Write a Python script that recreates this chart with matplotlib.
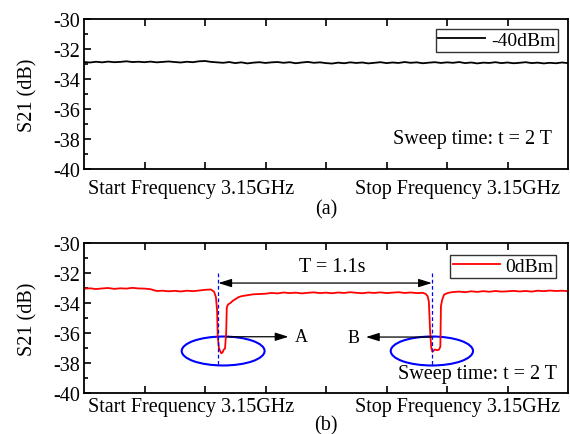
import matplotlib
matplotlib.use('Agg')
import matplotlib.pyplot as plt
import numpy as np
from matplotlib.patches import Ellipse

plt.rcParams['font.family'] = ['Liberation Serif', 'DejaVu Serif']

# (a) -40dBm trace, sampled uniformly from start to stop
top_y = [-32.87, -32.90, -32.85, -32.89, -32.84, -32.88, -32.86, -32.82, -32.87, -32.85,
         -32.88, -32.84, -32.89, -32.86, -32.83, -32.87, -32.90, -32.85, -32.88, -32.82,
         -32.80, -32.86, -32.89, -32.92, -32.87, -32.94, -32.89, -32.96, -32.91, -32.88,
         -32.93, -32.89, -32.87, -32.92, -32.88, -32.95, -32.90, -32.86, -32.92, -32.89,
         -32.94, -32.97, -32.91, -32.95, -32.89, -32.93, -32.90, -32.96, -32.92, -32.88,
         -32.94, -32.90, -32.93, -32.87, -32.92, -32.89, -32.95, -32.91, -32.88, -32.93,
         -32.89, -32.92, -32.87, -32.94, -32.90, -32.96, -32.91, -32.93, -32.88, -32.94,
         -32.90, -32.95, -32.92, -32.88, -32.94, -32.91, -32.96, -32.92, -32.95, -32.90, -32.94]

# (b) 0dBm trace with two absorption dips
bot_x = [0.0, 0.1, 0.2, 0.3, 0.4, 0.5, 0.6, 0.7, 0.8, 0.9, 1.0, 1.1, 1.2, 1.3, 1.4, 1.5,
         1.6, 1.7, 1.8, 1.9, 2.0, 2.1, 2.15, 2.18, 2.2, 2.21, 2.23, 2.25, 2.27, 2.29, 2.31,
         2.33, 2.35, 2.36, 2.38, 2.42, 2.46, 2.5, 2.55, 2.6, 2.7, 2.8, 2.9,
         3.0, 3.1, 3.2, 3.3, 3.4, 3.5, 3.6, 3.7, 3.8, 3.9, 4.0, 4.1, 4.2, 4.3, 4.4, 4.5,
         4.6, 4.7, 4.8, 4.9, 5.0, 5.1, 5.2, 5.3, 5.4, 5.5, 5.6,
         5.65, 5.68, 5.7, 5.72, 5.74, 5.76, 5.8, 5.84, 5.87, 5.89, 5.9, 5.92, 5.95, 6.0,
         6.05, 6.1, 6.2, 6.3, 6.4, 6.5, 6.6, 6.7, 6.8, 6.9, 7.0, 7.1, 7.2, 7.3, 7.4, 7.5,
         7.6, 7.7, 7.8, 7.9, 8.0]
bot_y = [-33.05, -33.02, -33.07, -33.03, -33.00, -33.06, -33.02, -33.04, -32.99, -33.03,
         -33.04, -33.08, -33.20, -33.18, -33.22, -33.19, -33.23, -33.18, -33.21, -33.17,
         -33.12, -33.10, -33.25, -33.60, -34.50, -36.20, -37.00, -37.20, -37.35, -37.30,
         -37.10, -37.05, -36.00, -34.30, -34.10, -34.00, -33.85, -33.75, -33.62, -33.55,
         -33.48, -33.42, -33.40,
         -33.38, -33.33, -33.36, -33.30, -33.34, -33.31, -33.36, -33.32, -33.29, -33.34,
         -33.31, -33.35, -33.30, -33.33, -33.28, -33.32, -33.35, -33.30, -33.33, -33.29,
         -33.34, -33.31, -33.28, -33.33, -33.30, -33.34, -33.32,
         -33.40, -33.55, -33.90, -35.80, -37.00, -37.25, -37.10, -37.15, -37.10, -36.90,
         -34.20, -33.80, -33.45, -33.35, -33.30, -33.27,
         -33.24, -33.28, -33.22, -33.26, -33.21, -33.25, -33.20, -33.24, -33.22, -33.19,
         -33.23, -33.20, -33.24, -33.18, -33.21, -33.17, -33.20, -33.18, -33.21]

y_ticks = [-30, -32, -34, -36, -38, -40]
x_ticks = [1, 2, 3, 4, 5, 6, 7]


def style_axes(ax):
    ax.set_xlim(0, 8)
    ax.set_ylim(-40, -30)
    ax.set_yticks(y_ticks)
    ax.set_yticklabels([str(v) for v in y_ticks])
    ax.set_yticks([-31, -33, -35, -37, -39], minor=True)
    ax.set_xticks(x_ticks)
    ax.set_xticklabels([])
    ax.tick_params(which='both', direction='in', top=True, right=False, width=1.2)
    ax.tick_params(which='major', length=5, labelsize=14.5, pad=3)
    ax.tick_params(which='minor', length=3)
    for sp in ax.spines.values():
        sp.set_linewidth(1.3)
    ax.set_ylabel('S21 (dB)', fontsize=14.5, labelpad=11)


def freq_labels(ax, off, tag, tag_off):
    tr = ax.get_xaxis_transform()
    ax.annotate('Start Frequency 3.15GHz', xy=(1.77, 0), xycoords=tr,
                xytext=(0, -off), textcoords='offset pixels',
                ha='center', va='center', fontsize=14.5)
    ax.annotate('Stop Frequency 3.15GHz', xy=(6.18, 0), xycoords=tr,
                xytext=(0, -off), textcoords='offset pixels',
                ha='center', va='center', fontsize=14.5)
    ax.annotate(tag, xy=(4.0, 0), xycoords=tr,
                xytext=(0, -tag_off), textcoords='offset pixels',
                ha='center', va='center', fontsize=14.5)


fig = plt.figure(figsize=(5.7, 4.35), dpi=100)
ax1 = fig.add_axes([84 / 570, 265 / 435, 484 / 570, 150 / 435])
ax2 = fig.add_axes([84 / 570, 41 / 435, 484 / 570, 150 / 435])

top_x = np.linspace(0, 8, len(top_y))
ax1.plot(top_x, top_y, color='black', lw=1.3, label='-40dBm')
style_axes(ax1)
leg = ax1.legend(loc='upper right', fontsize=14, frameon=True, fancybox=False,
                 handlelength=2.4, handletextpad=0.3, borderpad=0.15,
                 borderaxespad=0.5, edgecolor='black')
leg.get_frame().set_linewidth(1.0)
ax1.text(7.74, -38.0, 'Sweep time: t = 2 T', ha='right', va='center', fontsize=14.5)
freq_labels(ax1, 20, '(a)', 40)

ax2.plot(bot_x, bot_y, color='red', lw=1.3, label='0dBm')
style_axes(ax2)
leg = ax2.legend(loc='upper right', fontsize=14, frameon=True, fancybox=False,
                 handlelength=2.4, handletextpad=0.3, borderpad=0.15,
                 borderaxespad=0.6, edgecolor='black')
leg.get_frame().set_linewidth(1.0)

# markers of the two dips
ax2.plot([2.22, 2.22], [-32.0, -38.2], color='blue', lw=0.9, ls=(0, (3, 2)))
ax2.plot([5.75, 5.75], [-32.0, -38.1], color='blue', lw=0.9, ls=(0, (3, 2)))
ax2.annotate('', xy=(2.22, -32.67), xytext=(5.75, -32.67),
             arrowprops=dict(arrowstyle='<|-|>,head_length=0.8,head_width=0.25',
                             color='black', lw=0.9, shrinkA=0, shrinkB=0))
ax2.text(4.1, -31.6, 'T = 1.1s', ha='center', va='center', fontsize=14.5)

ax2.add_patch(Ellipse((2.30, -37.2), 1.37, 1.93, fill=False, edgecolor='blue', lw=1.5))
ax2.add_patch(Ellipse((5.75, -37.2), 1.36, 1.93, fill=False, edgecolor='blue', lw=1.5))

ax2.annotate('', xy=(3.38, -36.25), xytext=(2.36, -36.25),
             arrowprops=dict(arrowstyle='-|>,head_length=0.8,head_width=0.25',
                             color='black', lw=0.9, shrinkA=0, shrinkB=0))
ax2.text(3.6, -36.25, 'A', ha='center', va='center', fontsize=13)
ax2.annotate('', xy=(4.66, -36.27), xytext=(5.74, -36.27),
             arrowprops=dict(arrowstyle='-|>,head_length=0.8,head_width=0.25',
                             color='black', lw=0.9, shrinkA=0, shrinkB=0))
ax2.text(4.45, -36.27, 'B', ha='center', va='center', fontsize=13)

ax2.text(7.82, -38.67, 'Sweep time: t = 2 T', ha='right', va='center', fontsize=14.5)
freq_labels(ax2, 14, '(b)', 32)

fig.savefig('out.png', dpi=100)
